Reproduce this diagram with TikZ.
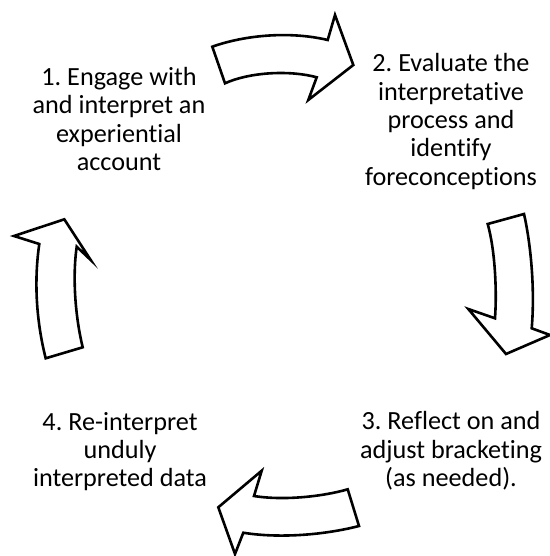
\documentclass[tikz,border=0pt]{standalone}
\usepackage{fontspec}
\setmainfont[Ligatures=CommonOff]{Carlito}
\frenchspacing
\begin{document}
\begin{tikzpicture}[x=1pt,y=-1pt,
  steptext/.style={align=center, inner sep=0pt,
    font=\fontsize{26.2}{28.4}\selectfont},
  blockarrow/.style={draw=black, fill=white, line width=2.6pt, line join=miter}]
\useasboundingbox (0,0) rectangle (549,556);

% stage labels
\node[steptext] (s1) at (119,119) {1. Engage with\\and interpret an\\experiential\\account};
\node[steptext] (s2) at (451,121.5) {2. Evaluate the\\interpretative\\process and\\identify\\foreconceptions};
\node[steptext] (s3) at (451,451) {3. Reflect on and\\adjust bracketing\\(as needed).};
\node[steptext] (s4) at (120,451.5) {4. Re-interpret\\unduly\\interpreted data};

% curved block arrows of the cycle
\draw[blockarrow] (212.3,46.7) .. controls (245,35) and (290,31) .. (327.7,40)
  -- (335,15) -- (353.3,65) -- (308.3,100) -- (316.7,77.3)
  .. controls (290,70) and (250,72) .. (225,83.3) -- cycle;

\draw[blockarrow] (487.7,224) -- (524,214)
  .. controls (531,245) and (535,290) .. (531.7,328.3)
  -- (550,335) -- (506,354) -- (468.3,309) -- (495,318.3)
  .. controls (497,290) and (495,250) .. (487.7,224) -- cycle;

\draw[blockarrow] (261.7,470.7) -- (254,496)
  .. controls (285,501) and (325,496) .. (347.7,489.3)
  -- (359,526) .. controls (320,536) and (275,538) .. (243.3,532.7)
  -- (235,554) -- (218.3,507.3) -- cycle;

\draw[blockarrow] (14,236) -- (64.3,219.3) -- (90.7,260) -- (76.7,246.7)
  .. controls (72,280) and (76,320) .. (82.7,347.3)
  -- (45.7,358.3) .. controls (36,320) and (34,280) .. (39.3,244) -- cycle;
\end{tikzpicture}
\end{document}
